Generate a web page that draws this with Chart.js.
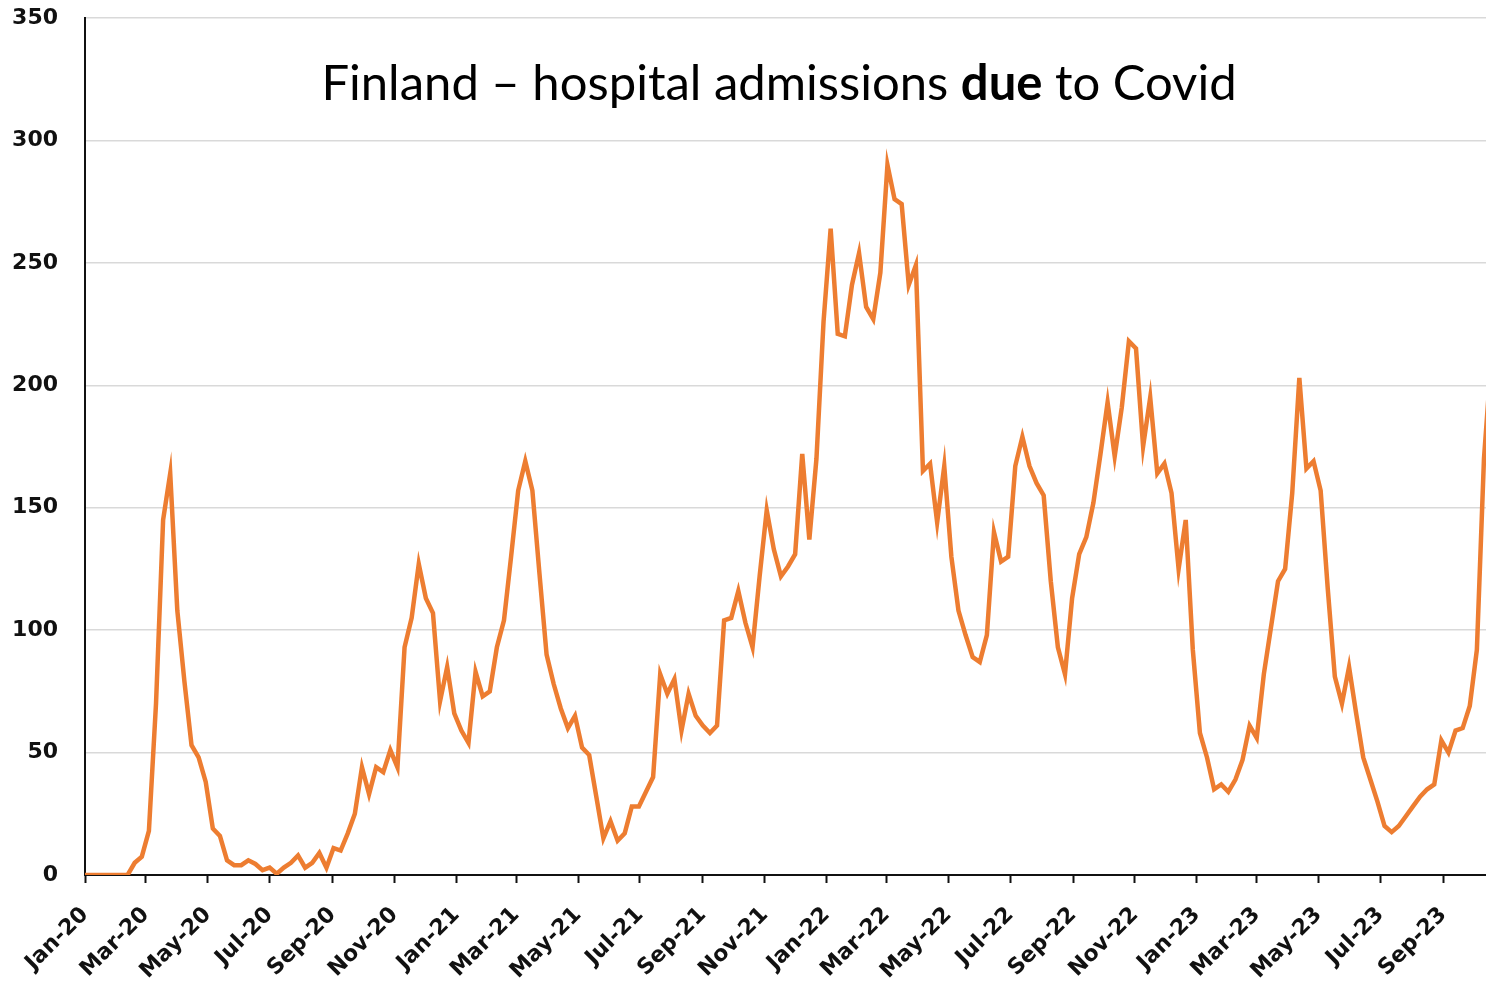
<!DOCTYPE html>
<html>
<head>
<meta charset="utf-8">
<script src="https://cdn.jsdelivr.net/npm/chart.js@4/dist/chart.umd.min.js"></script>
<style>
    html, body { margin: 0; padding: 0; background: #fff; }
    #wrap { position: relative; width: 1486px; height: 981px; }
</style>
</head>
<body>
<div id="wrap"><canvas id="covidChart"></canvas></div>
<script>
// weekly admissions, first week starting 1 Jan 2020
const weekValues = [
    0, 0, 0, 0, 0, 0, 0, 5, 7.5, 18,
    70, 145, 164, 108, 79, 53, 48, 38, 19, 16,
    6, 4, 4, 6, 4.5, 2, 3, 0.5, 3, 5,
    8, 3, 5, 9, 3, 11, 10, 17, 25, 44,
    33, 44, 42, 51, 44, 93, 105, 127, 113, 107,
    71, 85, 66, 59, 54, 83, 73, 75, 93, 104,
    130, 157, 169, 157, 123, 90, 78, 68, 60, 65,
    52, 49, 32, 15, 22, 14, 17, 28, 28, 34,
    40, 82, 74, 80, 59, 74, 65, 61, 58, 61,
    104, 105, 116, 103, 93, 122, 149, 133, 122, 126,
    131, 172, 137, 170, 226, 264, 221, 220, 241, 254,
    232, 227, 246, 290, 276, 274, 241, 249, 165, 168,
    144, 167, 130, 108, 98, 89, 87, 98, 140, 128,
    130, 167, 179, 167, 160, 155, 120, 93, 82, 113,
    131, 138, 152, 172, 193, 171, 191, 218, 215, 175,
    195, 164, 168, 156, 125, 145, 92, 58, 48, 35,
    37, 34, 39, 47, 61, 56, 82, 101, 120, 125,
    156, 203, 166, 169, 157, 117, 81, 70, 85, 66,
    48, 39, 30, 20, 17.5, 20, 24, 28, 32, 35,
    37, 55, 50, 59, 60, 69, 92, 170, 210,
];

const tickLabels = [
    "Jan-20", "Mar-20", "May-20", "Jul-20", "Sep-20", "Nov-20",
    "Jan-21", "Mar-21", "May-21", "Jul-21", "Sep-21", "Nov-21",
    "Jan-22", "Mar-22", "May-22", "Jul-22", "Sep-22", "Nov-22",
    "Jan-23", "Mar-23", "May-23", "Jul-23", "Sep-23",
];

const yTicks = [0, 50, 100, 150, 200, 250, 300, 350];

const MONTHS = ["Jan", "Feb", "Mar", "Apr", "May", "Jun", "Jul", "Aug", "Sep", "Oct", "Nov", "Dec"];
const START = Date.UTC(2020, 0, 1);
const LAST_DAY = 1381;

function labelToDay(label) {
    const [m, yy] = label.split("-");
    return (Date.UTC(2000 + Number(yy), MONTHS.indexOf(m), 1) - START) / 864e5;
}

const tickDays = tickLabels.map(labelToDay);
const points = weekValues.map((v, i) => ({ x: i * 7, y: v }));

const FONT = "'DejaVu Sans', Verdana, sans-serif";

const titlePlugin = {
    id: "mixedTitle",
    afterDraw(chart) {
        const ctx = chart.ctx;
        const parts = [
            { text: "Finland \u2013 hospital admissions ", bold: false },
            { text: "due", bold: true },
            { text: " to Covid", bold: false },
        ];
        const size = 49;
        const fontFor = (b) => `${b ? "bold " : ""}${size}px Lato, 'Open Sans', sans-serif`;
        ctx.save();
        let total = 0;
        parts.forEach((p) => {
            ctx.font = fontFor(p.bold);
            p.w = ctx.measureText(p.text).width;
            total += p.w;
        });
        let x = 779 - total / 2;
        ctx.fillStyle = "#000";
        ctx.textBaseline = "alphabetic";
        ctx.textAlign = "left";
        parts.forEach((p) => {
            ctx.font = fontFor(p.bold);
            ctx.fillText(p.text, x, 100);
            x += p.w;
        });
        ctx.restore();
    },
};

new Chart(document.getElementById("covidChart"), {
    type: "line",
    data: {
        datasets: [{
            data: points,
            borderColor: "#ED7D31",
            borderWidth: 4.5,
            pointRadius: 0,
            tension: 0,
            fill: false,
        }],
    },
    options: {
        responsive: true,
        maintainAspectRatio: false,
        animation: false,
        layout: { padding: { top: 18, right: 0, left: 0, bottom: 0 } },
        plugins: {
            legend: { display: false },
            tooltip: { enabled: false },
        },
        scales: {
            x: {
                type: "linear",
                min: 0,
                max: LAST_DAY,
                afterBuildTicks: (scale) => {
                    scale.ticks = tickDays.map((value) => ({ value }));
                },
                afterFit: (scale) => {
                    scale.height = 106;
                    scale.paddingLeft = 0;
                    scale.paddingRight = 0;
                },
                ticks: {
                    autoSkip: false,
                    maxRotation: 45,
                    minRotation: 45,
                    padding: 19,
                    color: "#111",
                    font: { family: FONT, size: 22, weight: "bold" },
                    callback: (value, index) => tickLabels[index],
                },
                grid: {
                    drawOnChartArea: false,
                    drawTicks: true,
                    tickLength: 8,
                    tickWidth: 2,
                    tickColor: "#111",
                },
                border: { color: "#111", width: 2 },
            },
            y: {
                min: 0,
                max: 350,
                afterBuildTicks: (scale) => {
                    scale.ticks = yTicks.map((value) => ({ value }));
                },
                afterFit: (scale) => {
                    scale.width = 85;
                    scale.paddingTop = 0;
                    scale.paddingBottom = 0;
                },
                ticks: {
                    padding: 27,
                    color: "#111",
                    font: { family: FONT, size: 22, weight: "bold" },
                },
                grid: {
                    color: "#d9d9d9",
                    lineWidth: 1.5,
                    drawTicks: false,
                },
                border: { color: "#111", width: 2 },
            },
        },
    },
    plugins: [titlePlugin],
});
</script>
</body>
</html>
